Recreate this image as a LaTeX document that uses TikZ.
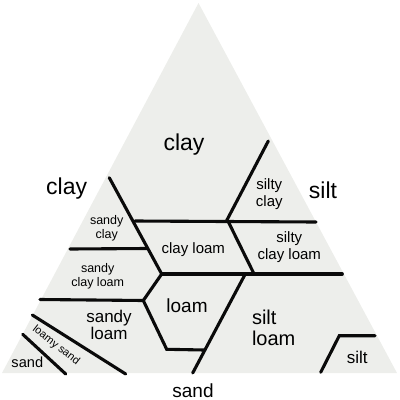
\documentclass[tikz,border=0pt]{standalone}
\usepackage{fontspec}
\setmainfont{Liberation Sans}
\definecolor{soilfill}{RGB}{237,238,235}
\definecolor{soiledge}{RGB}{10,10,10}
\tikzset{
  border/.style={soiledge,line width=3.1pt,line cap=round},
  corner/.style={font=\fontsize{23}{24}\selectfont,inner sep=0pt},
  cls/.style={font=\fontsize{15}{17}\selectfont,align=center,inner sep=0pt},
  clssmall/.style={font=\fontsize{12.5}{13.6}\selectfont,align=center,inner sep=0pt},
  clsbig/.style={font=\fontsize{17}{17}\selectfont,align=center,inner sep=0pt}
}
\begin{document}
\begin{tikzpicture}[x=1pt,y=-1pt]
  \useasboundingbox (0,0) rectangle (400,400);
  % Texture triangle and its corners.
  \coordinate (top) at (198.5,3);
  \coordinate (bl) at (2,373);
  \coordinate (br) at (397,373);
  \fill[soilfill] (top)--(bl)--(br)--cycle;

  % Class boundaries.
  \coordinate (ca) at (109.3,177.7);
  \coordinate (cb) at (161.7,274);
  \coordinate (hl) at (135,221);
  \coordinate (hr) at (316,222);
  \coordinate (sca) at (268.3,141);
  \coordinate (scb) at (226.7,220.5);
  \coordinate (cla) at (228.3,221.7);
  \coordinate (clb) at (254,273.8);
  \coordinate (mr) at (342.3,274);
  \coordinate (lw) at (143.3,300.5);
  \coordinate (lb) at (166.7,349.3);
  \coordinate (lbr) at (204,350);
  \coordinate (sla) at (245,274.5);
  \coordinate (slb) at (192.7,373);
  \draw[border] (ca)--(cb);
  \draw[border] (hl)--(hr);
  \draw[border] (sca)--(scb);
  \draw[border] (cla)--(clb);
  \draw[border] (70,249)--(146.7,248.5);
  \draw[border] (cb)--(mr);
  \draw[border] (cb)--(lw);
  \draw[border] (40,299.5)--(lw);
  \draw[border] (lw)--(lb)--(lbr);
  \draw[border] (sla)--(slb);
  \draw[border] (32.3,315)--(125.7,374);
  \draw[border] (22.7,334.3)--(65.7,374);
  \draw[border] (320.7,372.3)--(339.3,335.7)--(375,335.7);

  % Corner labels.
  \node[corner] (cornerclay) at (66.7,189) {clay};
  \node[corner] (cornersilt) at (323,190.3) {silt};
  \node[font=\fontsize{19}{20}\selectfont,inner sep=0pt] (cornersand) at (193,391) {sand};

  % Texture classes.
  \node[corner] (clay) at (184,144.7) {clay};
  \node[cls] (siltyclay) at (269.3,194.2) {silty\\clay};
  \node[clssmall] (sandyclay) at (106.7,228) {sandy\\clay};
  \node[cls] (clayloam) at (193.3,250) {clay loam};
  \node[cls] (siltyclayloam) at (289.3,247.5) {silty\\clay loam};
  \node[clssmall] (sandyclayloam) at (97.7,276.3) {sandy\\clay loam};
  \node[clsbig,font=\fontsize{19}{19}\selectfont] (loam) at (187,305.8) {loam};
  \node[clsbig,font=\fontsize{17}{17.5}\selectfont] (sandyloam) at (109,325) {sandy\\loam};
  \node[cls,font=\fontsize{20}{21}\selectfont,align=left,anchor=west] (siltloam) at (251.8,328.3) {silt\\loam};
  \node[font=\fontsize{11}{12}\selectfont,inner sep=0pt,rotate=-38] (loamysand) at (56,345.5) {loamy sand};
  \node[font=\fontsize{14.6}{15}\selectfont,inner sep=0pt] (sand) at (27.3,362.5) {sand};
  \node[font=\fontsize{17}{18}\selectfont,inner sep=0pt] (silt) at (357.3,357.5) {silt};
\end{tikzpicture}
\end{document}
